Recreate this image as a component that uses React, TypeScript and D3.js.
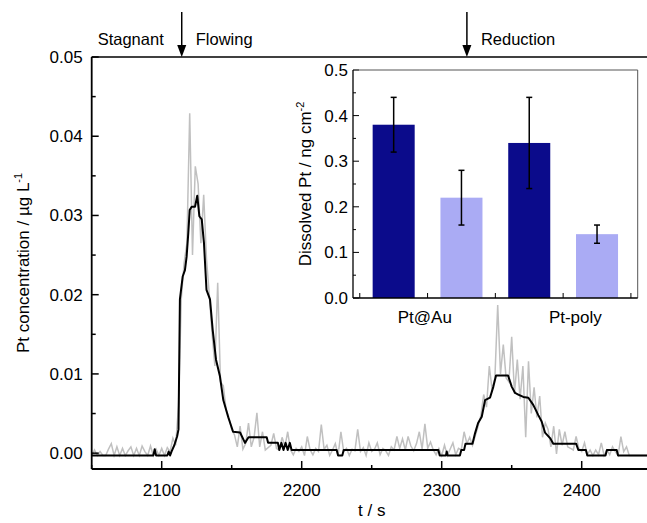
import React from "react";
import * as d3 from "d3";

// raw signal, one reading every 2 s from 2050 s to 2450 s (µg/L)
const rawStart = 2050;
const rawStep = 2;
const rawValues = [
  -0.0003, 0.0004, -0.0003, 0.0002, -0.0003, -0.0003, 0.0005, 0.0012, -0.0003, 0.0008,
  -0.0003, 0.0006, -0.0003, 0.0003, 0.0008, -0.0003, 0.0006, -0.0003, 0.0009, 0.0002,
  -0.0003, 0.0009, -0.0003, 0.0005, -0.0003, 0.0006, -0.0003, 0.0007, 0.0002, 0.0019,
  0.001, 0.006, 0.0195, 0.024, 0.0265, 0.0429, 0.025, 0.0362, 0.034, 0.0265,
  0.0326, 0.0245, 0.02, 0.015, 0.011, 0.0215, 0.009, 0.0085, 0.0055, 0.0045,
  0.003, 0.0023, 0.0008, 0.0034, 0.0005, 0.0012, 0.0038, 0.0008, 0.002, 0.0051,
  0.0008, 0.0027, 0.0004, 0.0007, 0.001, 0.0025, 0.0006, 0.0004, 0.002, 0.0008,
  0.0027, 0.0004, -0.0002, 0.0006, 0.0002, 0.0008, -0.0003, 0.0021, 0.0004, -0.0002,
  0.0006, 0.0002, 0.0036, 0.0005, 0.001, -0.0003, 0.0004, 0.0012, -0.0003, 0.0027,
  0.0002, 0.0006, -0.0003, 0.0005, 0.0003, 0.003, 0.0002, 0.0007, -0.0003, 0.0013,
  0.0002, 0.0005, 0.0013, -0.0002, 0.0006, 0.0003, -0.0003, 0.0008, 0.0004, 0.0021,
  0.0006, 0.0018, 0.0004, 0.0021, 0.0009, 0.0003, 0.0012, 0.0027, 0.0005, 0.0037,
  0.0006, 0.0014, 0.0004, -0.0002, 0.0006, -0.0003, 0.001, -0.0003, 0.0005, 0.0013,
  -0.0002, 0.0006, 0.0004, 0.0027, 0.0012, 0.002, 0.001, 0.0022, 0.0034, 0.0048,
  0.0074, 0.0058, 0.011, 0.008, 0.0095, 0.0187, 0.01, 0.0137, 0.0095, 0.009,
  0.0147, 0.0075, 0.0118, 0.0068, 0.011, 0.002, 0.0116, 0.005, 0.0083, 0.0045,
  0.0072, 0.002, 0.0038, 0.003, 0.0008, 0.0034, -0.0001, 0.003, 0.001, 0.0027,
  0.0008, 0.0006, 0.0004, 0.0021, 0.0006, 0.0002, 0.0013, -0.0002, 0.0004, -0.0003,
  0.0004, -0.0002, 0.0013, -0.0003, 0.0004, -0.0002, 0.0008, 0.0002, -0.0003, 0.0021,
  0.0002, 0.0008, -0.0003, -0.0003, -0.0003, -0.0003, -0.0003, -0.0003, -0.0003, -0.0003,
  -0.0003,
];

// smoothed signal (time s, value µg/L)
const smoothT = [
  2050, 2094, 2095, 2096, 2104, 2105, 2106, 2107, 2109, 2111, 2112, 2113, 2115, 2116.6, 2117.8,
  2119, 2120, 2121.4, 2123.8, 2125.4, 2126.9, 2128.6, 2130.2, 2132, 2134.5, 2136.4, 2138.8,
  2141.6, 2144, 2147.6, 2151, 2156, 2159.5, 2162, 2175, 2176, 2183, 2184, 2185.5, 2187, 2188.5,
  2190, 2191.5, 2192.8, 2225, 2226, 2229, 2230, 2297.6, 2298.6, 2303, 2303.6, 2304.2, 2313,
  2314, 2316, 2317, 2322, 2323.8, 2326, 2328.6, 2331, 2334.5, 2336.9, 2338.8, 2347.4, 2350,
  2352.4, 2354.7, 2358.3, 2361.9, 2365.4, 2369, 2371.4, 2373.8, 2377.4, 2379.7, 2396, 2397.6,
  2403, 2404, 2417, 2418, 2425, 2426, 2450,
];
const smoothV = [
  -0.0003, -0.0003, 0.0005, -0.0003, -0.0003, 0.0002, -0.0003, 0.0002, 0.001, 0.0021, 0.003,
  0.0194, 0.0223, 0.0231, 0.0248, 0.0278, 0.0307, 0.0311, 0.0311, 0.0325, 0.0299, 0.0295,
  0.0265, 0.0206, 0.0194, 0.0156, 0.0118, 0.0097, 0.0067, 0.0045, 0.0027, 0.0026, 0.0013,
  0.002, 0.002, 0.0013, 0.0013, 0.0004, 0.0013, 0.0004, 0.0013, 0.0004, 0.0013, 0.0004,
  0.0004, -0.0003, -0.0003, 0.0004, 0.0004, -0.0003, -0.0003, 0.0002, -0.0003, -0.0003,
  0.0004, 0.0004, 0.0012, 0.0012, 0.0025, 0.0038, 0.0046, 0.0067, 0.007, 0.0084, 0.0098,
  0.0098, 0.0084, 0.0076, 0.0074, 0.0071, 0.007, 0.0061, 0.0048, 0.004, 0.0026, 0.0019,
  0.0012, 0.0012, 0.0004, 0.0004, -0.0003, -0.0003, 0.0004, 0.0004, -0.0003, -0.0003,
];

const xMajor = [2100, 2200, 2300, 2400];
const xMinor = [2050, 2150, 2250, 2350, 2450];
const yMajor = [0, 0.01, 0.02, 0.03, 0.04, 0.05];
const yMinor = [0.005, 0.015, 0.025, 0.035, 0.045];

// event arrows on the top axis
const eventT = [2114.3, 2318];

// inset: dissolved Pt per area
const barPos = [1, 2, 3, 4];
const barVals = [0.38, 0.22, 0.34, 0.14];
const barErr = [0.06, 0.06, 0.1, 0.02];
const barKind = ["dark", "light", "dark", "light"];
const groupLabels = ["Pt@Au", "Pt-poly"];
const groupPos = [1.46, 3.68];
const insetMajor = [0, 0.1, 0.2, 0.3, 0.4, 0.5];
const insetMinor = [0.05, 0.15, 0.25, 0.35, 0.45];
const insetXMajor = [0.5, 1.5, 2.5, 3.5, 4.5];

const FONT = "'Liberation Sans', Arial, Helvetica, sans-serif";
const W = 647;
const H = 523;

export default function App() {
  const x = d3.scaleLinear().domain([2050, 2450]).range([91.7, 651.7]);
  const y = d3.scaleLinear().domain([-0.002, 0.05]).range([469, 57]);

  const raw = rawValues.map((v, i) => [rawStart + i * rawStep, v]);
  const smooth = smoothT.map((t, i) => [t, smoothV[i]]);
  const line = d3.line().x((d) => x(d[0])).y((d) => y(d[1]));

  const ix = d3.scaleLinear().domain([0.4, 4.6]).range([353, 637.7]);
  const iy = d3.scaleLinear().domain([0, 0.5]).range([298, 70]);
  const barW = ix(0.62) - ix(0);
  const colors = { dark: "#0b0b8b", light: "#aaabf4" };

  const [x0, x1] = x.range();
  const [yb, yt] = y.range();

  return (
    <svg
      width={W}
      height={H}
      style={{ position: "absolute", left: 0, top: 0, background: "#fff" }}
      fontFamily={FONT}
    >
      {/* raw + smoothed traces */}
      <path d={line(raw)} fill="none" stroke="#c0c0c0" strokeWidth={1.5} />
      <path d={line(smooth)} fill="none" stroke="#000" strokeWidth={2} strokeLinejoin="round" />

      {/* main frame */}
      <line x1={x0} x2={x1} y1={yt} y2={yt} stroke="#000" strokeWidth={1.5} />
      <line x1={x0} x2={x1} y1={yb} y2={yb} stroke="#000" strokeWidth={1.8} />
      <line x1={x0} x2={x0} y1={yt} y2={yb} stroke="#000" strokeWidth={1.8} />

      {xMajor.map((t, i) => (
        <g key={"xm" + t}>
          <line x1={x(t)} x2={x(t)} y1={yb} y2={yb - 8} stroke="#000" strokeWidth={1.5} />
          <text x={x(t)} y={yb + 27} textAnchor="middle" fontSize={17}>{xMajor[i]}</text>
        </g>
      ))}
      {xMinor.map((t) => (
        <line key={"xn" + t} x1={x(t)} x2={x(t)} y1={yb} y2={yb - 4} stroke="#000" strokeWidth={1.5} />
      ))}
      {yMajor.map((v) => (
        <g key={"ym" + v}>
          <line x1={x0} x2={x0 + 7} y1={y(v)} y2={y(v)} stroke="#000" strokeWidth={1.5} />
          <text x={x0 - 9} y={y(v) + 6} textAnchor="end" fontSize={17}>{v.toFixed(2)}</text>
        </g>
      ))}
      {yMinor.map((v) => (
        <line key={"yn" + v} x1={x0} x2={x0 + 4} y1={y(v)} y2={y(v)} stroke="#000" strokeWidth={1.5} />
      ))}

      <text x={(x0 + x1) / 2} y={516} textAnchor="middle" fontSize={17}>t / s</text>
      <text transform={`translate(29,${(yt + yb) / 2}) rotate(-90)`} textAnchor="middle" fontSize={17}>
        Pt concentration / µg L<tspan dy={-7} fontSize={11}>-1</tspan>
      </text>

      {/* event arrows */}
      {eventT.map((t) => (
        <g key={"ev" + t}>
          <line x1={x(t)} x2={x(t)} y1={12} y2={yt - 8} stroke="#000" strokeWidth={1.5} />
          <path d={`M${x(t) - 4.5},${yt - 12}L${x(t) + 4.5},${yt - 12}L${x(t)},${yt}Z`} fill="#000" />
        </g>
      ))}
      <text x={x(eventT[0]) - 18} y={45} textAnchor="end" fontSize={16.5}>Stagnant</text>
      <text x={x(eventT[0]) + 14} y={45} fontSize={16.5}>Flowing</text>
      <text x={x(eventT[1]) + 14} y={45} fontSize={16.5}>Reduction</text>

      {/* inset */}
      <rect x={ix(0.4)} y={iy(0.5)} width={ix(4.6) - ix(0.4)} height={iy(0) - iy(0.5)} fill="#fff" />
      {insetMinor.map((v) => (
        <line key={"in" + v} x1={ix(0.4)} x2={ix(0.4) + 3} y1={iy(v)} y2={iy(v)} stroke="#000" strokeWidth={1} />
      ))}
      {insetMajor.map((v) => (
        <g key={"im" + v}>
          <line x1={ix(0.4)} x2={ix(0.4) + 6} y1={iy(v)} y2={iy(v)} stroke="#000" strokeWidth={1} />
          <text x={ix(0.4) - 5} y={iy(v) + 6} textAnchor="end" fontSize={17}>{v.toFixed(1)}</text>
        </g>
      ))}
      {insetXMajor.map((p) => (
        <line key={"ix" + p} x1={ix(p)} x2={ix(p)} y1={iy(0)} y2={iy(0) - 5} stroke="#000" strokeWidth={1} />
      ))}
      {barPos.map((p, i) => (
        <rect
          key={"bar" + p}
          x={ix(p) - barW / 2}
          y={iy(barVals[i])}
          width={barW}
          height={iy(0) - iy(barVals[i])}
          fill={colors[barKind[i]]}
        />
      ))}
      {barPos.map((p, i) => (
        <g key={"err" + p} stroke="#000" strokeWidth={1.5}>
          <line x1={ix(p)} x2={ix(p)} y1={iy(barVals[i] + barErr[i])} y2={iy(barVals[i] - barErr[i])} />
          <line x1={ix(p) - 3} x2={ix(p) + 3} y1={iy(barVals[i] + barErr[i])} y2={iy(barVals[i] + barErr[i])} />
          <line x1={ix(p) - 3} x2={ix(p) + 3} y1={iy(barVals[i] - barErr[i])} y2={iy(barVals[i] - barErr[i])} />
        </g>
      ))}
      <line x1={ix(0.4)} x2={ix(4.6)} y1={iy(0.5)} y2={iy(0.5)} stroke="#555" strokeWidth={1} />
      <line x1={ix(4.6)} x2={ix(4.6)} y1={iy(0.5)} y2={iy(0)} stroke="#555" strokeWidth={1} />
      <line x1={ix(0.4)} x2={ix(4.6)} y1={iy(0)} y2={iy(0)} stroke="#000" strokeWidth={1.3} />
      <line x1={ix(0.4)} x2={ix(0.4)} y1={iy(0.5)} y2={iy(0)} stroke="#000" strokeWidth={1.3} />
      {groupLabels.map((g, i) => (
        <text key={g} x={ix(groupPos[i])} y={323} textAnchor="middle" fontSize={17}>{g}</text>
      ))}
      <text transform={`translate(311,${(iy(0) + iy(0.5)) / 2}) rotate(-90)`} textAnchor="middle" fontSize={17}>
        Dissolved Pt / ng cm<tspan dy={-7} fontSize={11}>-2</tspan>
      </text>
    </svg>
  );
}
